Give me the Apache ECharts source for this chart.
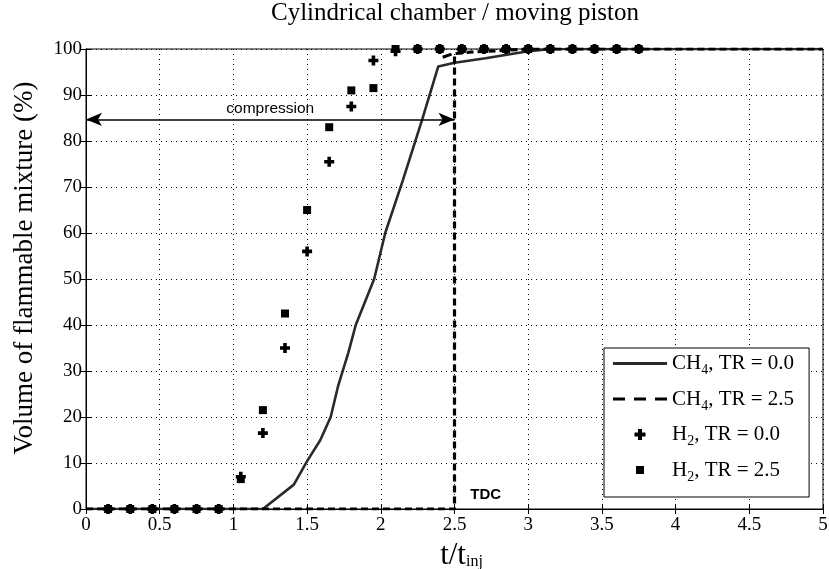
<!DOCTYPE html>
<html><head><meta charset="utf-8">
<script src="https://cdn.jsdelivr.net/npm/echarts@6/dist/echarts.min.js"></script>
<style>html,body{margin:0;padding:0;background:#fff}#c{width:829px;height:569px}</style>
</head><body><div id="c"></div>
<script>
// ---- data ----
const tH2 = [0.15,0.3,0.45,0.6,0.75,0.9,1.05,1.2,1.35,1.5,1.65,1.8,1.95,2.1,2.25,2.4,2.55,2.7,2.85,3.0,3.15,3.3,3.45,3.6,3.75];
const h2TR00 = [0,0,0,0,0,0,7,16.5,35,56,75.5,87.5,97.5,99.5,100,100,100,100,100,100,100,100,100,100,100];
const h2TR25 = [0,0,0,0,0,0,6.5,21.5,42.5,65,83,91,91.5,100,100,100,100,100,100,100,100,100,100,100,100];
const tCH4TR00 = [0,1.2,1.41,1.5,1.59,1.66,1.71,1.78,1.83,1.955,2.03,2.15,2.28,2.39,2.5,2.71,3.0,3.16,5];
const ch4TR00 = [0,0,5.3,10.4,15,20,26.7,34,40,50,60,71.5,84.6,96.2,97,98,99.5,100,100];
const tCH4TR25 = [0,2.5,2.5,2.6,3.0,5];
const ch4TR25 = [0,0,99.0,99.3,100,100];
const tCH4TR25b = [2.42,2.48];
const ch4TR25b = [98.2,98.9];
const arrowT = [0,2.5];
const arrowV = 84.7;
const tdcPos = [2.607,3];
const seriesNames = ['CH4, TR = 0.0','CH4, TR = 2.5','H2, TR = 0.0','H2, TR = 2.5'];

const zip = (a,b)=>a.map((x,i)=>[x,b[i]]);
const serif = 'Liberation Serif, Times New Roman, serif';
const sans = 'Liberation Sans, Arial, sans-serif';
const plusPath = 'path://M3.2,0H6.8V3.2H10V6.8H6.8V10H3.2V6.8H0V3.2H3.2Z';
const box = 'M0,0M54,20';
const legendIcons = [
  'path://'+box+'M0,8.6H54V11.4H0Z',
  'path://'+box+'M0,8.4H12V11.6H0ZM21,8.4H33V11.6H21ZM42,8.4H54V11.6H42Z',
  'path://'+box+'M25,4.5H29V8H32.5V12H29V15.5H25V12H21.5V8H25Z',
  'path://'+box+'M23,6H31V14H23Z'
];

const chart = echarts.init(document.getElementById('c'), null, {renderer:'canvas'});
const gridLine = {show:true, lineStyle:{color:'#000', type:[1,4], width:1}};
chart.setOption({
  animation:false,
  backgroundColor:'#fff',
  graphic:[{type:'text', x:455, y:1, style:{text:'Cylindrical chamber / moving piston', font:'25px '+serif, fill:'#000', align:'center', textAlign:'center', verticalAlign:'top', textVerticalAlign:'top'}}],
  grid:{left:86, right:6, top:49, bottom:60, show:true, borderColor:'#000', borderWidth:1, backgroundColor:'transparent', containLabel:false, outerBoundsMode:'none'},
  legend:{
    orient:'vertical', left:604, top:348,
    backgroundColor:'#fff', borderColor:'#000', borderWidth:1,
    padding:[5,15,13,9], itemGap:11, itemWidth:54, itemHeight:20,
    data:seriesNames.map((n,i)=>({name:n, icon:legendIcons[i]})),
    formatter:function(n){
      const p = n.split(', ');
      const m = p[0].match(/^([A-Z]+)(\d)$/);
      return '{a|'+m[1]+'}{s|'+m[2]+'}{a|, '+p[1]+'}';
    },
    textStyle:{color:'#000', rich:{
      a:{fontFamily:serif, fontSize:21, color:'#000'},
      s:{fontFamily:serif, fontSize:14, color:'#000', padding:[14,0,0,0]}
    }}
  },
  xAxis:[{
    type:'value', min:0, max:5, interval:0.5,
    name:'{a|t/t}{s|inj}', nameLocation:'middle', nameGap:7,
    nameTextStyle:{padding:[0,0,0,14], rich:{a:{fontFamily:serif,fontSize:31,color:'#000'}, s:{fontFamily:serif,fontSize:16,color:'#000',padding:[13,0,0,0]}}},
    axisLine:{lineStyle:{color:'#000',width:1}},
    axisTick:{inside:true, length:5, lineStyle:{color:'#000'}},
    axisLabel:{fontFamily:serif, fontSize:19, color:'#000', margin:7},
    splitLine:gridLine
  },{
    type:'value', min:0, max:5, interval:0.5, position:'top',
    axisLine:{lineStyle:{color:'#000'}}, axisTick:{inside:true,length:5,lineStyle:{color:'#000'}},
    axisLabel:{show:false}, splitLine:{show:false}
  }],
  yAxis:[{
    type:'value', min:0, max:100, interval:10,
    name:'Volume of flammable mixture (%)', nameLocation:'middle', nameGap:48, nameRotate:90,
    nameTextStyle:{fontFamily:serif, fontSize:27, color:'#000', padding:[0,0,0,22]},
    axisLine:{show:true, lineStyle:{color:'#000',width:1}},
    axisTick:{show:true, inside:true, length:5, lineStyle:{color:'#000'}},
    axisLabel:{fontFamily:serif, fontSize:19, color:'#000', margin:4},
    splitLine:gridLine
  },{
    type:'value', min:0, max:100, interval:10, position:'right',
    axisLine:{show:true, lineStyle:{color:'#000'}}, axisTick:{show:true, inside:true,length:5,lineStyle:{color:'#000'}},
    axisLabel:{show:false}, splitLine:{show:false}
  }],
  series:[
    {name:seriesNames[0], type:'line', data:zip(tCH4TR00,ch4TR00), symbol:'none', z:3,
     lineStyle:{color:'#2a2a2a', width:2.6}, itemStyle:{color:'#2a2a2a'},
     markLine:{silent:true, symbol:['arrow','arrow'], symbolSize:[10,16], precision:2,
       lineStyle:{color:'#000', width:1.5, type:'solid'},
       label:{show:true, position:'insideMiddleTop', formatter:'compression', fontFamily:sans, fontSize:15.5, color:'#000', distance:3},
       data:[[{coord:[arrowT[0],arrowV]},{coord:[arrowT[1],arrowV]}]]}
    },
    {name:seriesNames[1], type:'line', data:zip(tCH4TR25,ch4TR25), symbol:'none', z:4,
     lineStyle:{color:'#000', width:3.2, type:[7,4]}, itemStyle:{color:'#000'},
     markPoint:{silent:true, symbol:'circle', symbolSize:0,
       label:{show:true, formatter:'TDC', fontFamily:sans, fontWeight:'bold', fontSize:15, color:'#000', position:'right', distance:0},
       data:[{coord:tdcPos}]}
    },
    {name:'dash-b', type:'line', data:zip(tCH4TR25b,ch4TR25b), symbol:'none', z:4,
     lineStyle:{color:'#000', width:3}},
    {name:seriesNames[2], type:'scatter', data:zip(tH2,h2TR00), symbol:plusPath, symbolSize:10, z:5,
     itemStyle:{color:'#000', opacity:1}},
    {name:seriesNames[3], type:'scatter', data:zip(tH2,h2TR25), symbol:'rect', symbolSize:8, z:5,
     itemStyle:{color:'#000', opacity:1}}
  ]
});
</script>
</body></html>
